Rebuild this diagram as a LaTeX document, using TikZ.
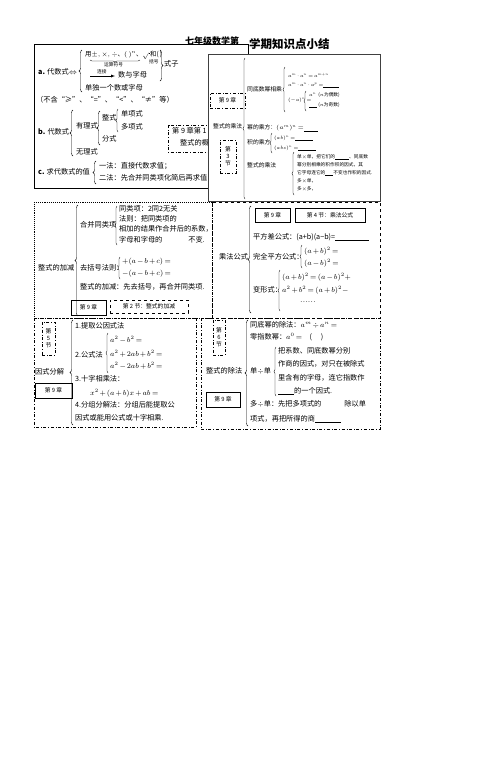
\RequirePackage{fix-cm}
\documentclass[tikz,border=0pt]{standalone}
\usepackage{amsmath, amssymb}
\usepackage{fontspec}
\setmainfont{Noto Sans CJK SC}
\usepackage{tikz}
\usetikzlibrary{
  % braces
  decorations.pathreplacing,%
  arrows,
  positioning
}
\tikzset{>=latex}
\medmuskip=2mu
\thickmuskip=3mu
\newcommand{\fsa}{\fontsize{7.2}{8.5}\selectfont}
\newcommand{\fsb}{\fontsize{5.8}{7}\selectfont}
\newcommand{\fsc}{\fontsize{4.7}{5.6}\selectfont}
\newcommand{\kong}[1]{\underline{\hspace{#1}}}
\tikzset{txt/.style={anchor=west, inner sep=0pt, font=\fsa}}
\tikzset{midtxt/.style={anchor=west, inner sep=0pt, font=\fsb}}
\tikzset{tin/.style={anchor=west, inner sep=0pt, font=\fsc}}
\tikzset{brc/.style={decorate, decoration={brace, amplitude=3pt}, thin},
  sbrc/.style={decorate, decoration={brace, amplitude=2pt}, thin}}
\tikzset{zhang/.style={draw, line width=0.9pt, inner sep=0pt, font=\fsb},
  jie/.style={draw, dash dot, line width=0.7pt, inner sep=0pt, align=center, font=\fsb}}

\begin{document}
\begin{tikzpicture}[x=1pt, y=-1pt]
\useasboundingbox (0,0) rectangle (502,772);
% title
\node[anchor=west, inner sep=0pt, font=\bfseries\fontsize{9}{9}\selectfont] (t1) at (185,41) {七年级数学第};
\node[anchor=west, inner sep=0pt, font=\bfseries\fontsize{11.5}{12}\selectfont] (t2) at (249,44) {学期知识点小结};

% a. b. c.
\draw[line width=1pt] (34,44) rectangle (248,188);
\node[txt] (a) at (38,72) {\textbf{a.} 代数式$\Leftrightarrow$};
\draw[brc] (82,92) -- (82,50);
\node[txt, font=\fontsize{6.4}{7}\selectfont] (a1) at (85,55) {用$\pm,\times,\div$、$(\;)^n$、$\sqrt{\;}$和(\,)};
\draw[sbrc] (140,60) -- (90,60);
\node[tin] (ys) at (104,65) {运算符号};
\node[tin] (kh) at (149,62) {括号};
\draw[brc] (160,50) -- (160,81);
\node[txt] (sz) at (164,64) {式子};
\draw[->, thin] (90,76) -- (115,76);
\node[tin] (lj) at (97,72) {连接};
\node[txt] (a2) at (118,75) {数与字母};
\node[txt] (a3) at (85,88) {单独一个数或字母};
\node[txt] (bh) at (36,100) {（不含“≥”、“=”、“<”、“≠”等）};

\node[txt] (b) at (38,132) {\textbf{b.} 代数式};
\draw[brc] (73,156) -- (73,110);
\node[txt] (b1) at (76,126) {有理式};
\draw[brc] (100,145) -- (100,111);
\node[txt] (b11) at (102,118) {整式};
\draw[sbrc] (118,132) -- (118,109);
\node[txt] (b111) at (121,114) {单项式};
\node[txt] (b112) at (121,127) {多项式};
\node[txt] (b12) at (102,139) {分式};
\node[txt] (b2) at (76,152) {无理式};

\node[txt] (c) at (38,172) {\textbf{c.} 求代数式的值};
\draw[brc] (96,184) -- (96,161);
\node[txt] (c1) at (99,166) {一法：直接代数求值；};
\node[txt] (c2) at (99,178) {二法：先合并同类项化简后再求值};

\draw[dash dot, line width=0.7pt] (168,125) rectangle (218,152);
\node[txt] (g1) at (172,131) {第 9 章第 1 节};
\node[txt] (g2) at (180,143) {整式的概念};

% multiplication
\draw[fill=white, draw=black!75, line width=0.7pt] (208,54) rectangle (380,201);
\node[jie, minimum width=35pt, minimum height=15pt] (z3) at (227.5,100.5) {第 9 章};
\node[midtxt] (cf) at (213,126) {整式的乘法};
\node[jie, minimum width=16pt, minimum height=33pt] (j3) at (228,156.5) {第\\3\\节};
\draw[sbrc] (245,199) -- (245,58);
\node[midtxt] (m1) at (247,89) {同底数幂相乘};
\draw[sbrc] (285,112) -- (285,67);
\node[tin] (m11) at (288,75) {$a^m\cdot a^n=a^{m+n}$};
\node[tin] (m12) at (288,85) {$a^m\cdot a^n\cdot a^p=$\kong{16pt}};
\node[tin] (m13) at (288,100) {$(-a)^n=$};
\draw[sbrc] (306,111) -- (306,91);
\node[tin] (m131) at (309,95) {$a^n$\ \ ($n$为偶数)};
\node[tin] (m132) at (309,105) {\kong{8pt}\ ($n$为奇数)};
\node[midtxt] (m2) at (247,128) {幂的乘方：$(a^m)^n=$\kong{14pt}};
\node[midtxt] (m3) at (247,142) {积的乘方};
\draw[sbrc] (272,153) -- (272,133);
\node[tin] (m31) at (274,138) {$(ab)^n=$\kong{18pt}};
\node[tin] (m32) at (274,148) {$(abc)^n=$\kong{18pt}};
\node[midtxt] (m4) at (247,165) {整式的乘法};
\draw[sbrc] (294,195) -- (294,152);
\node[tin] (m41) at (297,157) {单$\times$单，把它们的\kong{14pt}、同底数};
\node[tin] (m42) at (297,165) {幂分别相乘的积作积的因式，其};
\node[tin] (m43) at (297,173) {它字母连它的\kong{8pt}不变也作积的因式.};
\node[tin] (m44) at (297,181) {多$\times$单，};
\node[tin] (m45) at (297,189) {多$\times$多，};

% addition and subtraction
\draw[densely dotted, line width=0.9pt] (34,202) rectangle (212,318);
\node[txt] (jj) at (38,268) {整式的加减};
\draw[brc] (78,316) -- (78,205);
\node[txt] (hb) at (80,225) {合并同类项};
\draw[sbrc] (117,245) -- (117,206);
\node[txt] (hb1) at (119,209) {同类项：2同2无关};
\node[txt] (hb2) at (119,219) {法则：把同类项的};
\node[txt] (hb3) at (119,229) {相加的结果作合并后的系数，};
\node[txt] (hb4) at (119,240) {字母和字母的\hspace{3.6em}不变.};
\node[txt] (qk) at (80,268) {去括号法则：};
\draw[sbrc] (120,279) -- (120,257);
\node[txt] (qk1) at (122,262) {$+(a-b+c)=$};
\node[txt] (qk2) at (122,274) {$-(a-b+c)=$};
\node[txt] (jj1) at (80,287) {整式的加减：先去括号，再合并同类项.};
\node[zhang, minimum width=35pt, minimum height=15pt] (z2) at (88.5,307.5) {第 9 章};
\node[draw, dashed, line width=0.7pt, inner sep=0pt, font=\fsb, minimum width=78pt, minimum height=13pt] (j2) at (149,306.5) {第 2 节：整式的加减};

% formulas
\draw[dashed, line width=0.9pt] (212,202) rectangle (380,318);
\node[txt] (gs) at (219,257) {乘法公式};
\draw[brc] (251,313) -- (251,206);
\node[zhang, minimum width=35pt, minimum height=14pt] (z4) at (272.5,215) {第 9 章};
\node[zhang, minimum width=70pt, minimum height=14pt] (j4) at (330,215) {第 4 节：乘法公式};
\node[txt] (gs1) at (253,237) {平方差公式：(a+b)(a−b)=\kong{34pt}};
\node[txt] (gs2) at (253,257) {完全平方公式：};
\draw[sbrc] (302,268) -- (302,245);
\node[txt] (gs21) at (304,251) {$(a+b)^2=$};
\node[txt] (gs22) at (304,263) {$(a-b)^2=$};
\node[txt] (gs3) at (253,290) {变形式：};
\draw[sbrc] (280,311) -- (280,270);
\node[txt] (gs31) at (282,277) {$(a+b)^2=(a-b)^2+$};
\node[txt] (gs32) at (282,290) {$a^2+b^2=(a+b)^2-$};
\node[txt] (gs33) at (300,302) {……};

% factoring
\draw[dash dot, line width=0.9pt] (34,318) rectangle (196,427);
\node[jie, minimum width=13pt, minimum height=33pt] (j5) at (48.5,338.5) {第\\5\\节};
\node[txt] (yf) at (35,372) {因式分解};
\draw[brc] (73,425) -- (73,320);
\node[txt] (yf1) at (75,326) {1.提取公因式法};
\node[txt] (yf2) at (75,355) {2.公式法};
\draw[sbrc] (108,373) -- (108,333);
\node[txt] (yf21) at (110,340) {$a^2-b^2=$};
\node[txt] (yf22) at (110,354) {$a^2+2ab+b^2=$};
\node[txt] (yf23) at (110,366) {$a^2-2ab+b^2=$};
\node[zhang, minimum width=37pt, minimum height=15pt] (z5) at (53.5,390.5) {第 9 章};
\node[txt] (yf3) at (75,379) {3.十字相乘法：};
\node[txt] (yf31) at (90,393) {$x^2+(a+b)x+ab=$};
\node[txt] (yf4) at (75,405) {4.分组分解法：分组后能提取公};
\node[txt] (yf41) at (75,418) {因式或能用公式或十字相乘.};

% division
\draw[dash dot, line width=0.9pt] (201,318) rectangle (380,429);
\node[jie, minimum width=12pt, minimum height=35pt] (j6) at (219,337.5) {第\\6\\节};
\node[txt] (cc) at (206,371) {整式的除法};
\draw[brc] (248,426) -- (248,320);
\node[txt] (cc1) at (250,325) {同底幂的除法：$a^m\div a^n=$};
\node[txt] (cc2) at (250,337) {零指数幂：$a^0=$\quad(\quad\ )};
\node[txt] (cc3) at (250,371) {单$\div$单};
\draw[sbrc] (276,396) -- (276,347);
\node[txt] (cc31) at (278,351) {把系数、同底数幂分别};
\node[txt] (cc32) at (278,364) {作商的因式，对只在被除式};
\node[txt] (cc33) at (278,378) {里含有的字母，连它指数作};
\node[txt] (cc34) at (278,391) {\kong{16pt}的一个因式.};
\node[txt] (cc4) at (250,404) {多$\div$单：先把多项式的\hspace{3.2em}除以单};
\node[txt] (cc41) at (250,419) {项式，再把所得的商\kong{26pt}};
\node[zhang, minimum width=34pt, minimum height=15pt] (z6) at (223,399.5) {第 9 章};
\end{tikzpicture}
\end{document}
